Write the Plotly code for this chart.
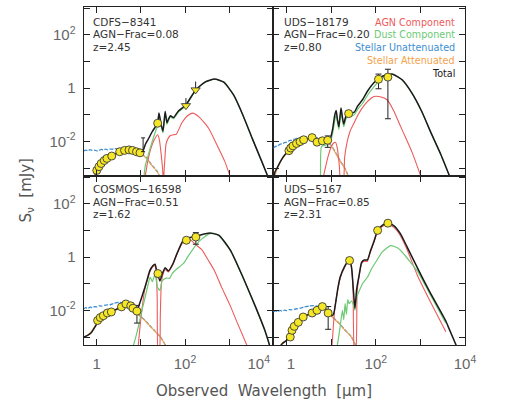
import numpy as np
import plotly.graph_objects as go

# ---------------- DATA (log10 wavelength [um], log10 flux [mJy]) ----------------
# Panel 1: CDFS-8341
cdfs_pts_lx = [0.00, 0.05, 0.10, 0.17, 0.23, 0.34, 0.52, 0.63, 0.73, 0.81, 0.90, 0.98, 1.38]
cdfs_pts_ly = [-3.09, -2.95, -2.83, -2.72, -2.64, -2.55, -2.39, -2.34, -2.32, -2.34, -2.39, -2.43, -1.32]
cdfs_pts_err = [0, 0, 0, 0, 0, 0, 0, 0, 0, 0, 0, 0, 0]
cdfs_lim_lx = [2.02, 2.24]
cdfs_lim_ly = [-0.66, -0.07]
cdfs_lim_len = [0.2, 0.9]
cdfs_bar_lx = [1.05]
cdfs_bar_mid = [0.0088]
cdfs_bar_err = [0.0047]
cdfs_tot_lx = [-0.08, 0.00, 0.05, 0.10, 0.17, 0.23, 0.34, 0.52, 0.63, 0.73, 0.81, 0.90, 0.98, 1.05, 1.10, 1.16, 1.26, 1.33, 1.38, 1.41,
               1.45, 1.50, 1.55, 1.59, 1.63, 1.67, 1.74, 1.85, 2.02, 2.24, 2.45, 2.67, 2.88, 3.10, 3.31, 3.52, 3.74, 3.92]
cdfs_tot_ly = [-3.5, -3.09, -2.95, -2.83, -2.72, -2.64, -2.55, -2.39, -2.34, -2.32, -2.34, -2.39, -2.43, -2.35, -2.12, -1.94, -1.63, -1.45, -1.30, -0.94,
               -1.30, -1.62, -0.88, -1.30, -1.15, -1.04, -1.11, -0.86, -0.63, -0.07, 0.22, 0.34, 0.22, -0.26, -1.01, -1.88, -2.76, -3.5]
cdfs_dust_lx = [1.06, 1.10, 1.16, 1.22, 1.30, 1.36, 1.41, 1.45, 1.50, 1.55, 1.59, 1.63, 1.67, 1.74, 1.85, 2.02, 2.24, 2.45, 2.67, 2.88, 3.10, 3.31, 3.52, 3.74, 3.92]
cdfs_dust_ly = [-3.5, -2.9, -2.55, -2.2, -1.78, -1.48, -1.0, -1.36, -1.68, -0.93, -1.36, -1.2, -1.08, -1.15, -0.9, -0.66, -0.09, 0.21, 0.33, 0.21, -0.27, -1.02, -1.89, -2.77, -3.5]
cdfs_agn_lx = [1.08, 1.15, 1.22, 1.30, 1.38, 1.42, 1.46, 1.49, 1.51, 1.53, 1.57, 1.62, 1.67, 1.74, 1.80, 1.93, 2.05, 2.17, 2.31, 2.53, 2.74, 2.90, 3.06]
cdfs_agn_ly = [-3.5, -2.8, -2.3, -1.95, -1.75, -1.95, -2.5, -3.0, -3.5, -3.0, -2.1, -1.88, -1.78, -1.75, -1.74, -1.30, -1.05, -0.94, -1.07, -1.5, -2.19, -2.75, -3.5]
cdfs_att_lx = [-0.08, 0.00, 0.10, 0.20, 0.34, 0.52, 0.63, 0.73, 0.81, 0.90, 0.98, 1.05, 1.15, 1.23, 1.30, 1.38, 1.47]
cdfs_att_ly = [-3.5, -3.1, -2.85, -2.68, -2.55, -2.40, -2.34, -2.32, -2.34, -2.38, -2.43, -2.52, -2.68, -2.87, -3.0, -3.17, -3.5]
cdfs_unat_lx = [-0.30, -0.25, -0.20, -0.15, -0.10, -0.05, 0.00, 0.05, 0.10, 0.15, 0.20, 0.25, 0.30, 0.35, 0.40,
                0.45, 0.50, 0.55, 0.60, 0.66, 0.73, 0.81, 0.90, 0.98, 1.05, 1.15, 1.23, 1.30, 1.38, 1.47]
cdfs_unat_ly = [-2.36, -2.33, -2.35, -2.31, -2.34, -2.33, -2.36, -2.34, -2.30, -2.32, -2.29, -2.32, -2.29, -2.30, -2.27,
                -2.28, -2.26, -2.28, -2.27, -2.29, -2.30, -2.33, -2.37, -2.42, -2.50, -2.66, -2.85, -2.99, -3.15, -3.5]

# Panel 2: UDS-18179
uds1_pts_lx = [0.05, 0.09, 0.14, 0.22, 0.30, 0.38, 0.57, 0.68, 0.80, 0.92, 1.39, 2.06, 2.27]
uds1_pts_ly = [-2.35, -2.25, -2.17, -2.08, -2.01, -1.94, -1.86, -2.03, -1.98, -1.96, -0.96, 0.33, 0.41]
uds1_pts_err = [0, 0, 0, 0, 0, 0, 0, 0, 0, 0.005, 0, 1.2, 2.5]
uds1_tot_lx = [-0.30, -0.26, -0.20, -0.13, -0.05, 0.05, 0.14, 0.22, 0.30, 0.38, 0.47, 0.57, 0.68, 0.80, 0.92, 0.98, 1.03, 1.08, 1.11, 1.14,
               1.17, 1.20, 1.22, 1.25, 1.28, 1.33, 1.39, 1.45, 1.52, 1.59, 1.70, 1.81, 1.95, 2.09, 2.25, 2.38, 2.59, 2.81, 3.03, 3.24, 3.46, 3.70]
uds1_tot_ly = [-3.4, -3.13, -2.95, -2.72, -2.52, -2.35, -2.17, -2.08, -2.01, -1.94, -1.90, -1.87, -2.0, -1.98, -1.96, -1.88, -1.55, -1.0, -0.84, -1.2,
               -1.45, -1.0, -0.75, -1.1, -1.35, -1.05, -0.96, -0.95, -0.9, -0.68, -0.44, -0.12, 0.19, 0.40, 0.50, 0.52, 0.31, -0.19, -0.88, -1.69, -2.5, -3.5]
uds1_dust_lx = [0.76, 0.78, 0.84, 0.92, 0.98, 1.03, 1.08, 1.11, 1.14, 1.17, 1.20, 1.22, 1.25, 1.28, 1.33, 1.39, 1.45, 1.52, 1.59, 1.70,
                1.81, 1.95, 2.09, 2.25, 2.38, 2.59, 2.81, 3.03, 3.24, 3.46, 3.70]
uds1_dust_ly = [-3.5, -2.2, -2.15, -2.12, -2.02, -1.7, -1.2, -1.0, -1.3, -1.55, -1.12, -0.88, -1.2, -1.45, -1.15, -1.08, -1.06, -1.0, -0.8, -0.58,
                -0.28, 0.03, 0.30, 0.46, 0.51, 0.30, -0.2, -0.89, -1.7, -2.51, -3.5]
uds1_agn_lx = [0.80, 0.92, 1.00, 1.06, 1.10, 1.14, 1.18, 1.21, 1.27, 1.30, 1.35, 1.42, 1.50, 1.60, 1.75, 1.88, 1.96, 2.10, 2.25, 2.40, 2.53, 2.68, 2.82, 3.05]
uds1_agn_ly = [-3.5, -2.62, -2.2, -2.05, -2.05, -2.3, -2.9, -3.5, -3.5, -2.6, -2.07, -1.63, -1.35, -1.0, -0.62, -0.4, -0.32, -0.33, -0.44, -0.85, -1.35, -1.9, -2.44, -3.5]
uds1_att_lx = [-0.30, -0.20, -0.10, 0.00, 0.10, 0.20, 0.30, 0.40, 0.50, 0.60, 0.70, 0.80, 0.90, 1.00, 1.10, 1.20, 1.30, 1.43]
uds1_att_ly = [-3.45, -2.98, -2.65, -2.43, -2.22, -2.1, -2.01, -1.94, -1.9, -1.88, -1.92, -1.96, -2.02, -2.17, -2.45, -2.75, -3.0, -3.5]
uds1_unat_lx = [-0.30, -0.25, -0.20, -0.15, -0.10, -0.05, 0.00, 0.05, 0.10, 0.15, 0.20, 0.25, 0.30, 0.35, 0.40, 0.45, 0.50,
                0.60, 0.70, 0.80, 0.90, 1.00, 1.10, 1.20, 1.30, 1.43]
uds1_unat_ly = [-2.25, -2.19, -2.17, -2.11, -2.09, -2.05, -2.03, -1.98, -1.96, -1.93, -1.91, -1.87, -1.9, -1.85, -1.87, -1.83, -1.85,
                -1.85, -1.88, -1.93, -2.0, -2.15, -2.43, -2.73, -2.99, -3.5]

# Panel 3: COSMOS-16598
cos_pts_lx = [0.02, 0.08, 0.15, 0.24, 0.33, 0.56, 0.66, 0.77, 0.82, 0.91, 1.385, 2.03, 2.245]
cos_pts_ly = [-2.38, -2.27, -2.2, -2.1, -2.06, -1.87, -1.76, -1.83, -1.92, -2.03, -0.62, 0.63, 0.75]
cos_pts_err = [0, 0, 0, 0, 0, 0, 0, 0, 0, 0.006, 0, 0.6, 2.6]
cos_tot_lx = [-0.30, -0.26, -0.20, -0.13, -0.07, 0.00, 0.02, 0.08, 0.15, 0.24, 0.33, 0.45, 0.56, 0.66, 0.77, 0.85, 0.91, 0.97, 1.03, 1.09,
              1.15, 1.20, 1.27, 1.32, 1.35, 1.38, 1.43, 1.48, 1.55, 1.62, 1.72, 1.81, 1.95, 2.09, 2.31, 2.56, 2.77, 3.03, 3.31, 3.60, 3.81, 3.95]
cos_tot_ly = [-3.0, -2.98, -2.93, -2.85, -2.7, -2.5, -2.38, -2.27, -2.2, -2.1, -2.06, -1.96, -1.87, -1.77, -1.82, -1.93, -2.02, -1.75, -1.45, -1.14,
              -0.8, -0.52, -0.33, -0.27, -0.45, -0.62, -0.9, -0.65, -0.4, -0.52, -0.27, 0.1, 0.6, 0.72, 0.81, 0.90, 0.81, 0.25, -0.75, -1.88, -2.76, -3.5]
cos_dust_lx = [0.80, 0.90, 0.96, 1.03, 1.10, 1.16, 1.21, 1.26, 1.32, 1.38, 1.43, 1.48, 1.57, 1.65, 1.71, 1.80, 1.97, 2.09, 2.25, 2.38,
               2.54, 2.65, 2.77, 3.03, 3.31, 3.60, 3.81, 3.95]
cos_dust_ly = [-3.5, -2.9, -2.49, -1.95, -1.48, -1.05, -0.75, -0.92, -0.65, -1.15, -1.25, -0.9, -0.79, -0.8, -0.62, -0.47, -0.23, 0.08, 0.46, 0.68,
               0.86, 0.89, 0.8, 0.24, -0.76, -1.89, -2.77, -3.5]
cos_agn_lx = [0.93, 1.00, 1.09, 1.15, 1.20, 1.27, 1.32, 1.35, 1.37, 1.39, 1.42, 1.44, 1.46, 1.49, 1.55, 1.62, 1.72, 1.81, 1.95, 2.05,
              2.12, 2.25, 2.38, 2.52, 2.67, 2.82, 3.03, 3.18, 3.45]
cos_agn_ly = [-3.5, -2.3, -1.2, -0.85, -0.57, -0.37, -0.33, -0.6, -1.6, -3.5, -3.5, -2.2, -1.1, -0.72, -0.47, -0.56, -0.3, 0.08, 0.55, 0.65,
              0.65, 0.45, 0.28, -0.1, -0.52, -1.1, -1.85, -2.45, -3.5]
cos_att_lx = [-0.30, -0.20, -0.10, 0.00, 0.10, 0.20, 0.33, 0.45, 0.56, 0.66, 0.77, 0.85, 0.93, 1.00, 1.10, 1.20, 1.32, 1.45, 1.62]
cos_att_ly = [-3.02, -2.93, -2.74, -2.5, -2.25, -2.14, -2.06, -1.96, -1.87, -1.78, -1.82, -1.95, -2.15, -2.25, -2.4, -2.58, -2.79, -3.02, -3.5]
cos_unat_lx = [-0.30, -0.25, -0.20, -0.15, -0.10, -0.05, 0.00, 0.05, 0.10, 0.20, 0.30, 0.40, 0.50, 0.60, 0.66, 0.77, 0.85, 0.93,
               1.00, 1.10, 1.20, 1.32, 1.45, 1.62]
cos_unat_ly = [-1.95, -1.9, -1.93, -1.88, -1.9, -1.86, -1.87, -1.83, -1.84, -1.8, -1.79, -1.73, -1.7, -1.72, -1.75, -1.8, -1.93, -2.12,
               -2.23, -2.39, -2.57, -2.78, -3.01, -3.5]

# Panel 4: UDS-5167
uds2_pts_lx = [0.08, 0.12, 0.17, 0.26, 0.37, 0.57, 0.68, 0.80, 0.93, 1.41, 2.04, 2.27]
uds2_pts_ly = [-3.0, -2.75, -2.6, -2.45, -2.25, -2.1, -2.0, -1.86, -2.1, -0.13, 1.0, 1.27]
uds2_pts_err = [0, 0, 0, 0, 0, 0, 0, 0, 0.006, 0, 0, 0]
uds2_tot_lx = [-0.20, -0.10, 0.00, 0.08, 0.12, 0.17, 0.26, 0.37, 0.57, 0.68, 0.80, 0.88, 0.95, 1.00, 1.05, 1.10, 1.15, 1.20, 1.30, 1.38,
               1.42, 1.46, 1.49, 1.53, 1.57, 1.63, 1.68, 1.74, 1.81, 1.88, 1.95, 2.04, 2.15, 2.27, 2.40, 2.55, 2.70, 2.93, 3.20, 3.57, 3.62, 3.85]
uds2_tot_ly = [-3.5, -3.25, -3.12, -3.0, -2.75, -2.6, -2.45, -2.25, -2.1, -2.0, -1.86, -1.95, -2.1, -2.2, -2.15, -1.7, -1.15, -0.75, -0.35, -0.15,
               -0.12, -0.45, -1.1, -1.92, -1.2, -0.63, -0.2, -0.11, -0.11, 0.24, 0.55, 1.0, 1.2, 1.28, 1.18, 0.88, 0.38, -0.4, -1.28, -2.4, -2.6, -3.5]
uds2_dust_lx = [1.12, 1.20, 1.25, 1.28, 1.31, 1.34, 1.37, 1.40, 1.45, 1.50, 1.53, 1.57, 1.63, 1.70, 1.81, 1.90, 2.02, 2.15, 2.33, 2.50,
                2.67, 2.80, 2.93, 3.20, 3.57]
uds2_dust_ly = [-3.5, -2.6, -2.0, -2.35, -1.75, -2.15, -1.6, -1.75, -1.65, -1.8, -2.0, -1.5, -1.26, -1.0, -0.76, -0.45, -0.13, 0.2, 0.43, 0.33,
                0.03, -0.25, -0.52, -1.35, -2.48]
uds2_agn_lx = [1.01, 1.08, 1.15, 1.20, 1.30, 1.38, 1.42, 1.46, 1.49, 1.52, 1.55, 1.58, 1.63, 1.68, 1.74, 1.81, 1.88, 1.95, 2.04, 2.15,
               2.27, 2.40, 2.55, 2.70, 2.93, 3.20, 3.57]
uds2_agn_ly = [-3.5, -1.9, -1.2, -0.8, -0.38, -0.18, -0.15, -0.5, -1.3, -3.5, -3.5, -1.3, -0.67, -0.25, -0.16, -0.16, 0.2, 0.52, 0.96, 1.15,
               1.23, 1.12, 0.8, 0.28, -0.68, -1.6, -2.8]
uds2_att_lx = [-0.22, -0.10, 0.00, 0.08, 0.12, 0.17, 0.26, 0.37, 0.57, 0.68, 0.80, 0.93, 1.05, 1.18, 1.30, 1.45, 1.60]
uds2_att_ly = [-3.5, -3.22, -3.12, -3.0, -2.77, -2.62, -2.46, -2.27, -2.1, -2.0, -1.88, -2.05, -2.3, -2.5, -2.73, -3.0, -3.5]
uds2_unat_lx = [-0.30, -0.25, -0.20, -0.15, -0.10, -0.05, 0.00, 0.05, 0.10, 0.20, 0.30, 0.40, 0.50, 0.60, 0.68, 0.80, 0.93,
                1.05, 1.18, 1.30, 1.45, 1.60]
uds2_unat_ly = [-2.05, -2.02, -2.05, -2.0, -2.03, -1.99, -2.01, -1.97, -1.98, -1.95, -1.92, -1.87, -1.84, -1.82, -1.84, -1.88, -2.03,
                -2.28, -2.49, -2.72, -2.99, -3.5]

panel_names = ["CDFS\u22128341", "UDS\u221218179", "COSMOS\u221216598", "UDS\u22125167"]
panel_agnfrac = ["0.08", "0.20", "0.51", "0.85"]
panel_z = ["2.45", "0.80", "1.62", "2.31"]
legend_labels = ["AGN Component", "Dust Component", "Stellar Unattenuated", "Stellar Attenuated", "Total"]

# ---------------- STYLE ----------------
C_AGN = "#ee5a5a"
C_DUST = "#6cca74"
C_UNAT = "#3d8ed3"
C_ATT = "#f2a24c"
C_TOT = "#1b1b1b"
C_PT = "#f6e726"
legend_colors = [C_AGN, C_DUST, C_UNAT, C_ATT, C_TOT]

W, H = 510, 404
PX_L, PX_M, PX_R = 88, 288, 490
PY_T, PY_M, PY_B = 7, 176, 345
XR = [-0.30, 4.0]
YR = [-3.30, 3.04]


def p(v):
    return list(10.0 ** np.asarray(v, dtype=float))


fig = go.Figure()

panels = [
    dict(ax="", tot=(cdfs_tot_lx, cdfs_tot_ly), dust=(cdfs_dust_lx, cdfs_dust_ly), agn=(cdfs_agn_lx, cdfs_agn_ly),
         att=(cdfs_att_lx, cdfs_att_ly), unat=(cdfs_unat_lx, cdfs_unat_ly), pts=(cdfs_pts_lx, cdfs_pts_ly, cdfs_pts_err)),
    dict(ax="2", tot=(uds1_tot_lx, uds1_tot_ly), dust=(uds1_dust_lx, uds1_dust_ly), agn=(uds1_agn_lx, uds1_agn_ly),
         att=(uds1_att_lx, uds1_att_ly), unat=(uds1_unat_lx, uds1_unat_ly), pts=(uds1_pts_lx, uds1_pts_ly, uds1_pts_err)),
    dict(ax="3", tot=(cos_tot_lx, cos_tot_ly), dust=(cos_dust_lx, cos_dust_ly), agn=(cos_agn_lx, cos_agn_ly),
         att=(cos_att_lx, cos_att_ly), unat=(cos_unat_lx, cos_unat_ly), pts=(cos_pts_lx, cos_pts_ly, cos_pts_err)),
    dict(ax="4", tot=(uds2_tot_lx, uds2_tot_ly), dust=(uds2_dust_lx, uds2_dust_ly), agn=(uds2_agn_lx, uds2_agn_ly),
         att=(uds2_att_lx, uds2_att_ly), unat=(uds2_unat_lx, uds2_unat_ly), pts=(uds2_pts_lx, uds2_pts_ly, uds2_pts_err)),
]

for pn in panels:
    xa, ya = "x" + pn["ax"], "y" + pn["ax"]
    def line(key, color, width, dash="solid"):
        lx, ly = pn[key]
        fig.add_trace(go.Scatter(x=p(lx), y=p(ly), mode="lines", xaxis=xa, yaxis=ya, showlegend=False,
                                 line=dict(color=color, width=width, dash=dash, shape="spline", smoothing=0.5),
                                 hoverinfo="skip"))
    line("unat", C_UNAT, 1.3, "4px,1.5px")
    line("att", C_ATT, 1.1)
    line("agn", C_AGN, 1.1)
    line("dust", C_DUST, 1.2)
    line("tot", C_TOT, 1.5)
    lx, ly, er = pn["pts"]
    fig.add_trace(go.Scatter(x=p(lx), y=p(ly), mode="markers", xaxis=xa, yaxis=ya, showlegend=False,
                             marker=dict(symbol="circle", size=8, color=C_PT, line=dict(color="#3a3a3a", width=0.9)),
                             error_y=dict(type="data", symmetric=True, array=er, color="#222", thickness=1, width=3)))

# upper limits and lone error bar in panel 1
fig.add_trace(go.Scatter(x=p(cdfs_bar_lx), y=cdfs_bar_mid, mode="markers", xaxis="x", yaxis="y", showlegend=False,
                         marker=dict(size=1, opacity=0),
                         error_y=dict(type="data", symmetric=True, array=cdfs_bar_err, color="#222", thickness=1, width=2)))
fig.add_trace(go.Scatter(x=p(cdfs_lim_lx), y=p(cdfs_lim_ly), mode="markers", xaxis="x", yaxis="y", showlegend=False,
                         marker=dict(symbol="triangle-down", size=8, color=C_PT, line=dict(color="#3a3a3a", width=0.9)),
                         error_y=dict(type="data", symmetric=False, array=cdfs_lim_len, arrayminus=[0, 0],
                                      color="#222", thickness=1, width=0)))

# ---------------- AXES ----------------
NB = "\u00a0"
tickfont = dict(family="Liberation Sans, Arial, sans-serif", size=15, color="#666")
dom_x = {"L": [PX_L / W, PX_M / W], "R": [PX_M / W, PX_R / W]}
dom_y = {"T": [1 - PY_M / H, 1 - PY_T / H], "B": [1 - PY_B / H, 1 - PY_M / H]}
xtv = [1, 10, 100, 1e3, 1e4]
ytv = [1e-3, 1e-2, 1e-1, 1, 10, 100, 1e3]
ytt = ["", "10<sup>-2</sup>", "", "1", "", "10<sup>2</sup>", ""]
layout_axes = {}
cfg = [("", "L", "T"), ("2", "R", "T"), ("3", "L", "B"), ("4", "R", "B")]
for ax, cx, cy in cfg:
    xt = ["", "", "", "", ""]
    if cy == "B":
        if cx == "L":
            xt = ["1", "", "10<sup>2</sup>", "", "10<sup>4</sup>" + NB * 7]
        else:
            xt = [NB * 2 + "1", "", "10<sup>2</sup>", "", "10<sup>4</sup>"]
    common = dict(type="log", ticks="inside", ticklen=6, tickwidth=1, tickcolor="#222", showline=True,
                  linecolor="#222", linewidth=1, mirror="ticks", showgrid=False, zeroline=False, tickfont=tickfont)
    layout_axes["xaxis" + ax] = dict(common, domain=dom_x[cx], range=XR, tickvals=xtv, ticktext=xt,
                                     showticklabels=(cy == "B"), anchor="y" + ax, ticklabelstandoff=5)
    layout_axes["yaxis" + ax] = dict(common, domain=dom_y[cy], range=YR, tickvals=ytv, ticktext=ytt,
                                     showticklabels=(cx == "L"), anchor="x" + ax, ticklabelstandoff=4)

fig.update_layout(width=W, height=H, autosize=False, margin=dict(l=0, r=0, t=0, b=0), paper_bgcolor="white",
                  plot_bgcolor="white", showlegend=False, **layout_axes)

# ---------------- TEXT ----------------
lab_font = dict(family="DejaVu Sans, sans-serif", size=10.5, color="#333")
leg_font = dict(family="DejaVu Sans, sans-serif", size=9.6, color="#333")
anns = []
origins = [(96, 22), (297, 22), (96, 189), (297, 189)]
for i, (ox, oy) in enumerate(origins):
    lines = [panel_names[i], "AGN\u2212Frac=" + panel_agnfrac[i], "z=" + panel_z[i]]
    for j, t in enumerate(lines):
        anns.append(dict(text=t, x=ox / W, y=1 - (oy + 12.5 * j) / H, xref="paper", yref="paper",
                         xanchor="left", yanchor="middle", showarrow=False, font=lab_font))
for j, (t, c) in enumerate(zip(legend_labels, legend_colors)):
    anns.append(dict(text=t, x=482 / W, y=1 - (22 + 12.9 * j) / H, xref="paper", yref="paper",
                     xanchor="right", yanchor="middle", showarrow=False, font=dict(leg_font, color=c)))
title_font = dict(family="DejaVu Sans, sans-serif", size=15, color="#555")
anns.append(dict(text="Observed" + NB * 2 + "Wavelength" + NB * 2 + "[\u03bcm]", x=278 / W, y=1 - 391 / H,
                 xref="paper", yref="paper", xanchor="center", yanchor="middle", showarrow=False, font=title_font))
anns.append(dict(text="S<sub>\u03bd</sub>" + NB * 2 + "[mJy]", x=27 / W, y=1 - 190 / H, textangle=-90,
                 xref="paper", yref="paper", xanchor="center", yanchor="middle", showarrow=False, font=title_font))
fig.update_layout(annotations=anns)

fig.write_html("out.html", config={"responsive": False})
